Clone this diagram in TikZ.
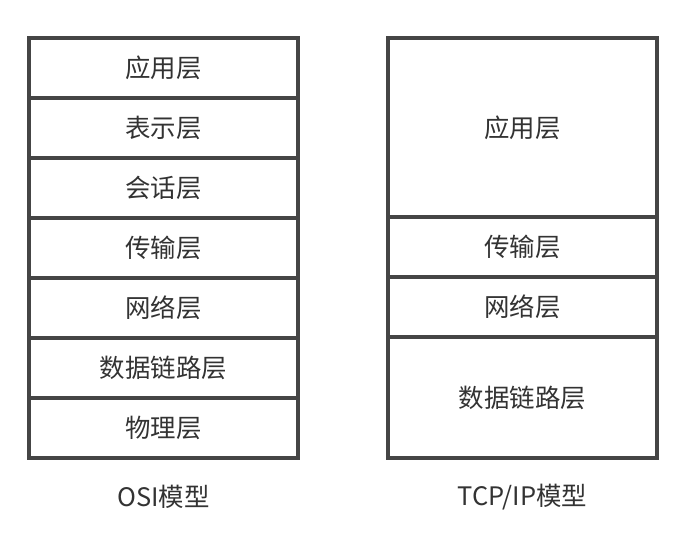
\documentclass[tikz,border=0pt]{standalone}
\usepackage{fontspec}
\setmainfont{Noto Sans CJK SC}
\usetikzlibrary{positioning}
\definecolor{frame}{HTML}{454545}
\definecolor{ink}{HTML}{333333}
\tikzset{
  layer/.style={
    draw=frame, line width=2.4pt, fill=white,
    minimum width=7.06cm, minimum height=1.575cm,
    outer sep=0pt, inner sep=0pt,
    font=\fontsize{19}{22}\selectfont, text=ink
  },
  caption/.style={font=\fontsize{19}{22}\selectfont, text=ink}
}
\begin{document}
\begin{tikzpicture}[x=0.02625cm, y=-0.02625cm]
  \useasboundingbox (0,0) rectangle (686,538);

  % ====== OSI ======
  \node[layer, anchor=north] (osi7) at (163.5,38) {应用层};
  \node[layer, below=0pt of osi7] (osi6) {表示层};
  \node[layer, below=0pt of osi6] (osi5) {会话层};
  \node[layer, below=0pt of osi5] (osi4) {传输层};
  \node[layer, below=0pt of osi4] (osi3) {网络层};
  \node[layer, below=0pt of osi3] (osi2) {数据链路层};
  \node[layer, below=0pt of osi2] (osi1) {物理层};
  \node[caption] (osi) at (163.5,497) {OSI模型};

  % ====== TCP/IP ======
  \node[layer, anchor=north, minimum height=4.7cm] (tcp4) at (522.5,38) {应用层};
  \node[layer, below=0pt of tcp4] (tcp3) {传输层};
  \node[layer, below=0pt of tcp3] (tcp2) {网络层};
  \node[layer, below=0pt of tcp2, minimum height=3.175cm] (tcp1) {数据链路层};
  \node[caption] (tcp) at (522.5,497) {TCP/IP模型};
\end{tikzpicture}
\end{document}
